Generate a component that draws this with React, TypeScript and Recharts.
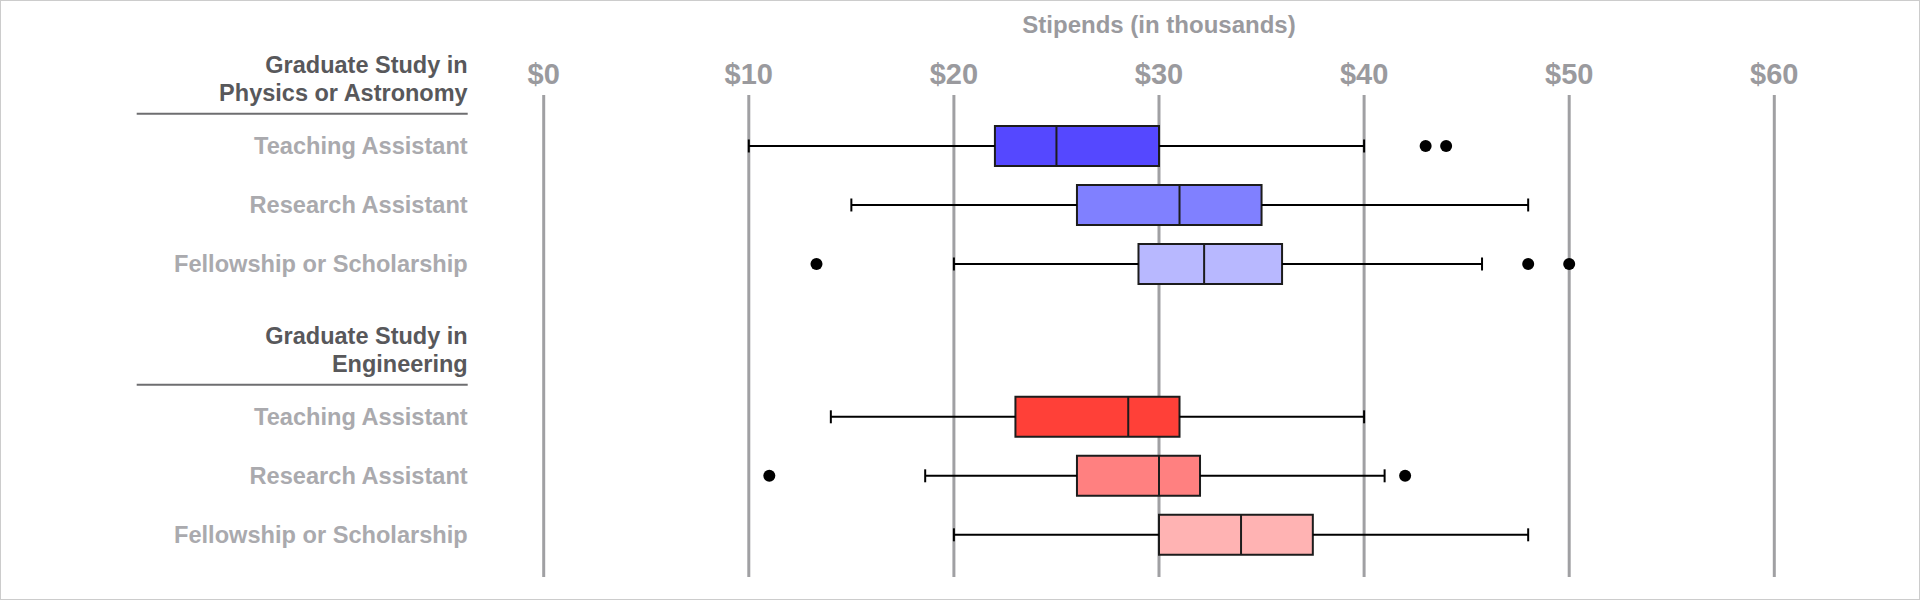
import React from "react";
import {
  ScatterChart,
  Scatter,
  XAxis,
  YAxis,
  CartesianGrid,
  ReferenceArea,
  ReferenceLine,
} from "recharts";

// stipends in thousands of dollars
const TICKS = [0, 10, 20, 30, 40, 50, 60];
const ROW_LABELS = ["Teaching Assistant", "Research Assistant", "Fellowship or Scholarship"];
const GROUP_TITLES = [
  ["Graduate Study in", "Physics or Astronomy"],
  ["Graduate Study in", "Engineering"],
];

const physicsMin = [10, 15, 20];
const physicsQ1 = [22, 26, 29];
const physicsMedian = [25, 31, 32.2];
const physicsQ3 = [30, 35, 36];
const physicsMax = [40, 48, 45.75];
const physicsOutliers = [[43, 44], [], [13.3, 48, 50]];

const engineeringMin = [14, 18.6, 20];
const engineeringQ1 = [23, 26, 30];
const engineeringMedian = [28.5, 30, 34];
const engineeringQ3 = [31, 32, 37.5];
const engineeringMax = [40, 41, 48];
const engineeringOutliers = [[], [11, 42], []];

const PHYSICS_COLORS = ["#5548ff", "#8080ff", "#b8b8ff"];
const ENGINEERING_COLORS = ["#ff4038", "#ff8080", "#ffb3b3"];

const FONT = '"Liberation Sans", Arial, Helvetica, sans-serif';
const GROUP_STEP = 4.59;
const HEADER_OFFSET = 0.545;
const BOX_HALF = 0.34;
const CAP_HALF = 0.11;

const groups = [
  {
    title: GROUP_TITLES[0],
    min: physicsMin,
    q1: physicsQ1,
    median: physicsMedian,
    q3: physicsQ3,
    max: physicsMax,
    outliers: physicsOutliers,
    colors: PHYSICS_COLORS,
  },
  {
    title: GROUP_TITLES[1],
    min: engineeringMin,
    q1: engineeringQ1,
    median: engineeringMedian,
    q3: engineeringQ3,
    max: engineeringMax,
    outliers: engineeringOutliers,
    colors: ENGINEERING_COLORS,
  },
];

const rows = groups.flatMap((g, gi) =>
  ROW_LABELS.map((label, i) => ({
    y: gi * GROUP_STEP + i,
    label,
    min: g.min[i],
    q1: g.q1[i],
    median: g.median[i],
    q3: g.q3[i],
    max: g.max[i],
    outliers: g.outliers[i],
    color: g.colors[i],
  }))
);

const headers = groups.map((g, gi) => ({
  y: gi * GROUP_STEP - HEADER_OFFSET,
  lines: g.title,
}));

const outlierPoints = rows.flatMap((r) => r.outliers.map((x) => ({ x, y: r.y })));
const yTicks = [...headers.map((h) => h.y), ...rows.map((r) => r.y)];

function RowTick(props: any) {
  const { x, y, payload } = props;
  const v = payload.value;
  const header = headers.find((h) => Math.abs(h.y - v) < 1e-6);
  if (header) {
    return (
      <g>
        <text x={x} y={y - 41} textAnchor="end" fontSize={23.5} fontWeight={700} fill="#58585b">
          {header.lines[0]}
        </text>
        <text x={x} y={y - 13} textAnchor="end" fontSize={23.5} fontWeight={700} fill="#58585b">
          {header.lines[1]}
        </text>
        <line x1={x - 331} x2={x} y1={y} y2={y} stroke="#6e6e70" strokeWidth={2} />
      </g>
    );
  }
  const row = rows.find((r) => Math.abs(r.y - v) < 1e-6);
  return (
    <text x={x} y={y} dy={8.5} textAnchor="end" fontSize={23.6} fontWeight={700} fill="#aaaaae">
      {row ? row.label : ""}
    </text>
  );
}

function DollarTick(props: any) {
  const { x, y, payload } = props;
  return (
    <text x={x} y={y} textAnchor="middle" fontSize={29} fontWeight={700} fill="#9a9a9e">
      ${payload.value}
    </text>
  );
}

export default function App() {
  return (
    <div
      style={{
        position: "absolute",
        left: 0,
        top: 0,
        width: 1920,
        height: 600,
        background: "#fff",
        fontFamily: FONT,
      }}
    >
      <ScatterChart
        width={1920}
        height={600}
        margin={{ top: 0, right: 145.7, bottom: 23, left: 0 }}
      >
        <CartesianGrid horizontal={false} stroke="#a0a0a3" strokeWidth={3} />
        <XAxis
          type="number"
          dataKey="x"
          orientation="top"
          domain={[0, 60]}
          ticks={TICKS}
          allowDataOverflow
          height={95}
          axisLine={false}
          tickLine={false}
          tickSize={0}
          tickMargin={11.5}
          tick={DollarTick}
          label={{
            value: "Stipends (in thousands)",
            position: "insideTop",
            offset: 16,
            fill: "#9a9a9e",
            fontSize: 24,
            fontWeight: 700,
          }}
        />
        <YAxis
          type="number"
          dataKey="y"
          domain={[-0.864, 7.305]}
          reversed
          allowDataOverflow
          ticks={yTicks}
          width={543.7}
          axisLine={false}
          tickLine={false}
          tickSize={0}
          tickMargin={76}
          tick={RowTick}
          interval={0}
        />
        {rows.map((r) => (
          <ReferenceLine
            key={`wl${r.y}`}
            segment={[{ x: r.min, y: r.y }, { x: r.q1, y: r.y }]}
            stroke="#000"
            strokeWidth={2}
          />
        ))}
        {rows.map((r) => (
          <ReferenceLine
            key={`wh${r.y}`}
            segment={[{ x: r.q3, y: r.y }, { x: r.max, y: r.y }]}
            stroke="#000"
            strokeWidth={2}
          />
        ))}
        {rows.map((r) => (
          <ReferenceLine
            key={`cl${r.y}`}
            segment={[{ x: r.min, y: r.y - CAP_HALF }, { x: r.min, y: r.y + CAP_HALF }]}
            stroke="#000"
            strokeWidth={2}
          />
        ))}
        {rows.map((r) => (
          <ReferenceLine
            key={`ch${r.y}`}
            segment={[{ x: r.max, y: r.y - CAP_HALF }, { x: r.max, y: r.y + CAP_HALF }]}
            stroke="#000"
            strokeWidth={2}
          />
        ))}
        {rows.map((r) => (
          <ReferenceArea
            key={`box${r.y}`}
            x1={r.q1}
            x2={r.q3}
            y1={r.y - BOX_HALF}
            y2={r.y + BOX_HALF}
            fill={r.color}
            fillOpacity={1}
            stroke="#1c1c1c"
            strokeWidth={2}
          />
        ))}
        {rows.map((r) => (
          <ReferenceLine
            key={`med${r.y}`}
            segment={[{ x: r.median, y: r.y - BOX_HALF }, { x: r.median, y: r.y + BOX_HALF }]}
            stroke="#1c1c1c"
            strokeWidth={2}
          />
        ))}
        <Scatter
          data={outlierPoints}
          isAnimationActive={false}
          shape={(p: any) => <circle cx={p.cx} cy={p.cy} r={6} fill="#000" />}
        />
      </ScatterChart>
      <div
        style={{
          position: "absolute",
          inset: 0,
          border: "1px solid #cccccc",
          pointerEvents: "none",
        }}
      />
    </div>
  );
}
